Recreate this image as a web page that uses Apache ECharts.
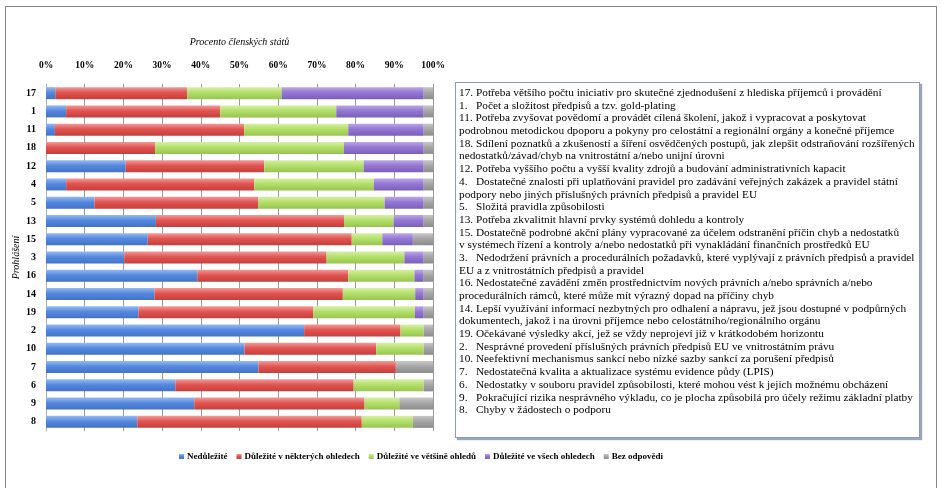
<!DOCTYPE html>
<html>
<head>
<meta charset="utf-8">
<script src="https://cdn.jsdelivr.net/npm/echarts@6/dist/echarts.min.js"></script>
<style>
html,body{margin:0;padding:0;background:#fff;}
#wrap{position:relative;width:941px;height:488px;overflow:hidden;}
#frame{position:absolute;left:5px;top:6px;width:932px;height:490px;border:1px solid #858585;box-sizing:border-box;}
#chart{position:absolute;left:0;top:0;width:941px;height:488px;}
#box{position:absolute;left:455px;top:82px;width:465px;height:356px;border:1px solid #8a9ab8;box-shadow:2px 2px 1px #9aa6bd;box-sizing:border-box;background:#fff;
 font-family:"Liberation Serif","Times New Roman",serif;font-size:11.3px;line-height:12.68px;color:#000;padding:3px 0 0 3px;white-space:nowrap;}
</style>
</head>
<body>
<div id="wrap">
<div id="frame"></div>
<div id="chart"></div>
<div id="box"></div>
</div>
<script>
const categories = ["17","1","11","18","12","4","5","13","15","3","16","14","19","2","10","7","6","9","8"];
const seriesNames = ["Nedůležité","Důležité v některých ohledech","Důležité ve většině ohledů","Důležité ve všech ohledech","Bez odpovědi"];
const nedulezite   = [2.4, 5.2, 2.3, 0.0, 20.6, 5.2, 12.5, 28.4, 26.3, 20.2, 39.1, 28.0, 23.9, 66.7, 51.3, 54.9, 33.4, 38.3, 23.6];
const nekterych    = [34.1, 39.8, 48.9, 28.2, 35.8, 48.6, 42.4, 48.6, 52.7, 52.3, 39.0, 48.7, 45.2, 24.9, 34.0, 35.5, 46.1, 44.0, 58.0];
const vetsine      = [24.4, 30.0, 26.9, 48.8, 25.7, 30.9, 32.6, 12.8, 7.9, 20.1, 17.1, 18.7, 26.2, 6.0, 12.3, 0.0, 18.1, 9.0, 13.2];
const vsech        = [36.7, 22.6, 19.5, 20.6, 15.5, 12.9, 10.1, 7.8, 7.9, 5.0, 2.4, 2.2, 2.3, 0.0, 0.0, 0.0, 0.0, 0.0, 0.0];
const bezOdpovedi  = [2.4, 2.4, 2.4, 2.4, 2.4, 2.4, 2.4, 2.4, 5.2, 2.4, 2.4, 2.4, 2.4, 2.4, 2.4, 9.6, 2.4, 8.7, 5.2];
const xTicks = [0,10,20,30,40,50,60,70,80,90,100];
const xAxisTitle = "Procento členských států";
const yAxisTitle = "Prohlášení";
const boxLines = [
"17. Potřeba většího počtu iniciativ pro skutečné zjednodušení z hlediska příjemců i provádění",
"1.&nbsp;&nbsp; Počet a složitost předpisů a tzv. gold-plating",
"11. Potřeba zvyšovat povědomí a provádět cílená školení, jakož i vypracovat a poskytovat",
"podrobnou metodickou dpoporu a pokyny pro celostátní a regionální orgány a konečné příjemce",
"18. Sdílení poznatků a zkušeností a šíření osvědčených postupů, jak zlepšit odstraňování rozšířených",
"nedostatků/závad/chyb na vnitrostátní a/nebo unijní úrovni",
"12. Potřeba vyššího počtu a vyšší kvality zdrojů a budování administrativních kapacit",
"4.&nbsp;&nbsp; Dostatečné znalosti při uplatňování pravidel pro zadávání veřejných zakázek a pravidel státní",
"podpory nebo jiných příslušných právních předpisů a pravidel EU",
"5.&nbsp;&nbsp; Složitá pravidla způsobilosti",
"13. Potřeba zkvalitnit hlavní prvky systémů dohledu a kontroly",
"15. Dostatečně podrobné akční plány vypracované za účelem odstranění příčin chyb a nedostatků",
"v systémech řízení a kontroly a/nebo nedostatků při vynakládání finančních prostředků EU",
"3.&nbsp;&nbsp; Nedodržení právních a procedurálních požadavků, které vyplývají z právních předpisů a pravidel",
"EU a z vnitrostátních předpisů a pravidel",
"16. Nedostatečné zavádění změn prostřednictvím nových právních a/nebo správních a/nebo",
"procedurálních rámců, které může mít výrazný dopad na příčiny chyb",
"14. Lepší využívání informací nezbytných pro odhalení a nápravu, jež jsou dostupné v podpůrných",
"dokumentech, jakož i na úrovni příjemce nebo celostátního/regionálního orgánu",
"19. Očekávané výsledky akcí, jež se vždy neprojeví již v krátkodobém horizontu",
"2.&nbsp;&nbsp; Nesprávné provedení příslušných právních předpisů EU ve vnitrostátním právu",
"10. Neefektivní mechanismus sankcí nebo nízké sazby sankcí za porušení předpisů",
"7.&nbsp;&nbsp; Nedostatečná kvalita a aktualizace systému evidence půdy (LPIS)",
"6.&nbsp;&nbsp; Nedostatky v souboru pravidel způsobilosti, které mohou vést k jejich možnému obcházení",
"9.&nbsp;&nbsp; Pokračující rizika nesprávného výkladu, co je plocha způsobilá pro účely režimu základní platby",
"8.&nbsp;&nbsp; Chyby v žádostech o podporu"
];
document.getElementById('box').innerHTML = boxLines.map(l => '<div>' + l + '</div>').join('');

const baseColors = [
  ['#95baf2','#5589de','#4272c6'],
  ['#f39a98','#e05552','#c63e3b'],
  ['#d6f0a4','#b3df6a','#98c550'],
  ['#bba6ea','#9478d2','#7b5fbb'],
  ['#c8c8c8','#a6a6a6','#8c8c8c']
];
function grad(c){
  return new echarts.graphic.LinearGradient(0,0,0,1,[
    {offset:0,color:c[0]},{offset:0.45,color:c[1]},{offset:1,color:c[2]}
  ]);
}
const dataSets = [nedulezite, nekterych, vetsine, vsech, bezOdpovedi];
const serif = '"Liberation Serif","Times New Roman",serif';

const chart = echarts.init(document.getElementById('chart'));
chart.setOption({
  animation:false,
  color: baseColors.map(c=>c[1]),
  grid:{left:46,right:508,top:84,bottom:57},
  legend:{
    bottom:22,left:174,itemWidth:5,itemHeight:5,itemGap:9,icon:'rect',
    textStyle:{fontFamily:serif,fontWeight:'bold',fontSize:9,color:'#000',padding:[0,0,0,-2]},
    data:seriesNames
  },
  xAxis:{
    type:'value',position:'top',min:0,max:100,interval:10,
    name:xAxisTitle,nameLocation:'middle',nameGap:37,
    nameTextStyle:{fontFamily:serif,fontStyle:'italic',fontSize:10,color:'#000'},
    axisLabel:{formatter:'{value}%',fontFamily:serif,fontWeight:'bold',fontSize:9.5,color:'#000',margin:13},
    axisLine:{show:false},axisTick:{show:false},
    splitLine:{show:true,lineStyle:{color:'#9a9a9a',width:1}}
  },
  yAxis:{
    type:'category',inverse:true,data:categories,
    name:yAxisTitle,nameLocation:'middle',nameGap:25,nameRotate:90,
    nameTextStyle:{fontFamily:serif,fontStyle:'italic',fontSize:10,color:'#000'},
    axisLabel:{fontFamily:serif,fontWeight:'bold',fontSize:10,color:'#000',margin:10},
    axisLine:{show:true,lineStyle:{color:'#b0b0b0'}},axisTick:{show:false}
  },
  series: seriesNames.map((n,i)=>({
    name:n,type:'bar',stack:'total',barWidth:12,
    itemStyle:{color:grad(baseColors[i])},
    data:dataSets[i]
  }))
});
</script>
</body>
</html>
